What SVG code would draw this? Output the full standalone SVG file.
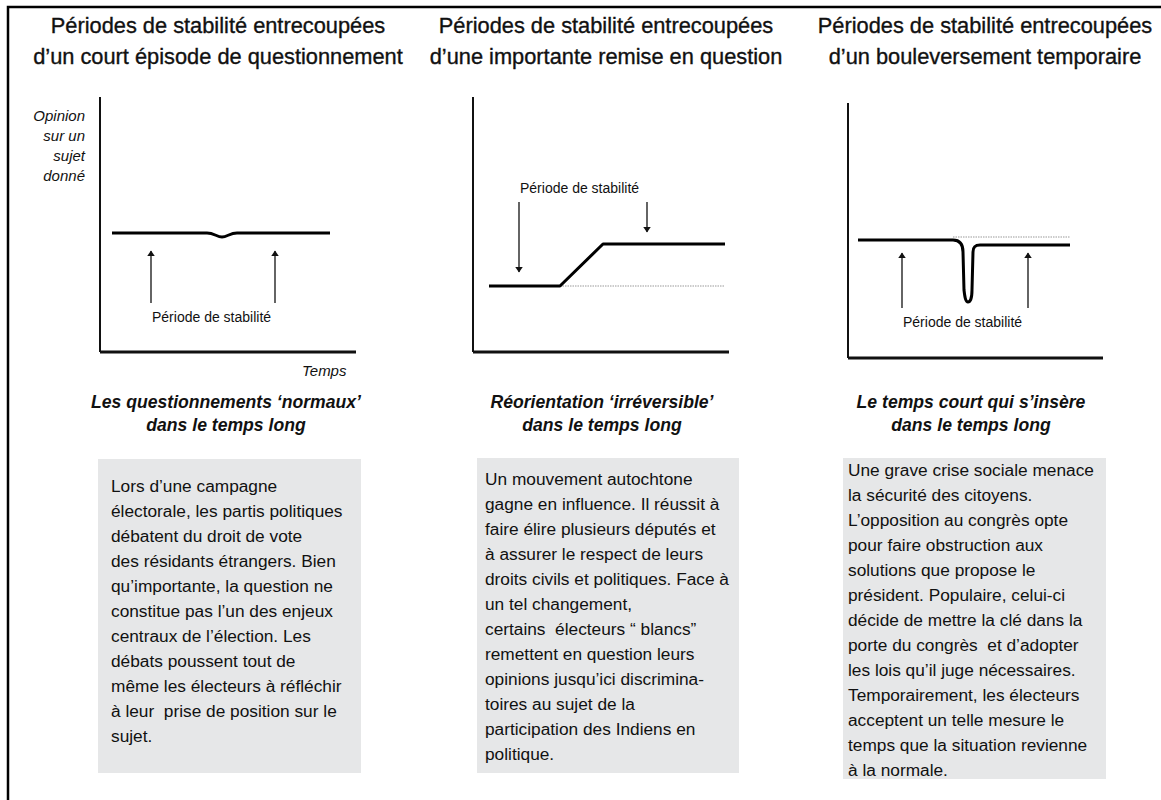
<svg xmlns="http://www.w3.org/2000/svg" width="1161" height="800" viewBox="0 0 1161 800">
<style>
.title{font-family:"Liberation Sans",Arial,sans-serif;font-size:21.8px;fill:#111;stroke:#111;stroke-width:0.35;text-anchor:middle}
.sub{font-family:"Liberation Sans",Arial,sans-serif;font-size:17.6px;font-weight:bold;font-style:italic;fill:#111;text-anchor:middle}
.body{font-family:"Liberation Sans",Arial,sans-serif;font-size:17.3px;fill:#111}
.lbl{font-family:"Liberation Sans",Arial,sans-serif;font-size:14px;fill:#111}
.ax{font-family:"Liberation Sans",Arial,sans-serif;font-size:15px;font-style:italic;fill:#111}
.box{fill:#e6e7e8}
.axis{stroke:#111;fill:none}
.data{stroke:#000;stroke-width:3;fill:none;stroke-linejoin:round}
.dot{stroke:#999;stroke-width:1;stroke-dasharray:1.5 1;fill:none}
.arr{stroke:#111;stroke-width:1.3;fill:none;marker-end:url(#ah)}
</style>
<defs>
<marker id="ah" viewBox="0 0 10 10" refX="9" refY="5" markerWidth="6" markerHeight="8" markerUnits="userSpaceOnUse" orient="auto" preserveAspectRatio="none">
<path d="M0,0 L10,5 L0,10 z" fill="#111"/>
</marker>
</defs>
<rect width="1161" height="800" fill="#fff"/>
<path d="M8,800 L8,7 L1161,7" stroke="#000" stroke-width="2.5" fill="none"/>

<g id="panel1">
<text class="title" x="218" y="33">Périodes de stabilité entrecoupées</text>
<text class="title" x="218" y="64">d’un court épisode de questionnement</text>
<text class="ax" text-anchor="end" x="85" y="121">Opinion</text>
<text class="ax" text-anchor="end" x="85" y="141">sur un</text>
<text class="ax" text-anchor="end" x="85" y="161">sujet</text>
<text class="ax" text-anchor="end" x="85" y="181">donné</text>
<path class="axis" stroke-width="2" d="M100,97 L100,352"/>
<path class="axis" stroke-width="3" d="M100,352 L356,352"/>
<path class="data" d="M112,233 L207,233 C214,233 217,237 222,237 C227,237 230,233 237,233 L330,233"/>
<text class="lbl" x="152" y="322">Période de stabilité</text>
<text class="ax" x="302" y="376">Temps</text>
<text class="sub" x="226" y="408">Les questionnements ‘normaux’</text>
<text class="sub" x="226" y="431">dans le temps long</text>
<rect class="box" x="98" y="459" width="263" height="314"/>
<text class="body" x="111" y="492">Lors d’une campagne</text>
<text class="body" x="111" y="517">électorale, les partis politiques</text>
<text class="body" x="111" y="542">débatent du droit de vote</text>
<text class="body" x="111" y="567">des résidants étrangers. Bien</text>
<text class="body" x="111" y="592">qu’importante, la question ne</text>
<text class="body" x="111" y="617">constitue pas l’un des enjeux</text>
<text class="body" x="111" y="642">centraux de l’élection. Les</text>
<text class="body" x="111" y="667">débats poussent tout de</text>
<text class="body" x="111" y="692">même les électeurs à réfléchir</text>
<text class="body" x="111" y="717" xml:space="preserve">à leur  prise de position sur le</text>
<text class="body" x="111" y="742">sujet.</text>
</g>

<g id="panel2">
<text class="title" x="606" y="33">Périodes de stabilité entrecoupées</text>
<text class="title" x="606" y="64">d’une importante remise en question</text>
<path class="axis" stroke-width="2" d="M473,97 L473,352"/>
<path class="axis" stroke-width="3" d="M473,352 L729,352"/>
<path class="dot" d="M560,286 L725,286"/>
<path class="data" d="M489,286 L560,286 L603,244 L725,244"/>
<text class="lbl" x="520" y="193">Période de stabilité</text>
<text class="sub" x="602" y="408">Réorientation ‘irréversible’</text>
<text class="sub" x="602" y="431">dans le temps long</text>
<rect class="box" x="477" y="458" width="262" height="315"/>
<text class="body" x="485" y="485">Un mouvement autochtone</text>
<text class="body" x="485" y="510">gagne en influence. Il réussit à</text>
<text class="body" x="485" y="535">faire élire plusieurs députés et</text>
<text class="body" x="485" y="560">à assurer le respect de leurs</text>
<text class="body" x="485" y="585">droits civils et politiques. Face à</text>
<text class="body" x="485" y="610">un tel changement,</text>
<text class="body" x="485" y="635" xml:space="preserve">certains  électeurs “ blancs”</text>
<text class="body" x="485" y="660">remettent en question leurs</text>
<text class="body" x="485" y="685">opinions jusqu’ici discrimina-</text>
<text class="body" x="485" y="710">toires au sujet de la</text>
<text class="body" x="485" y="735">participation des Indiens en</text>
<text class="body" x="485" y="760">politique.</text>
</g>

<g id="panel3">
<text class="title" x="985" y="33">Périodes de stabilité entrecoupées</text>
<text class="title" x="985" y="64">d’un bouleversement temporaire</text>
<path class="axis" stroke-width="2" d="M848,103 L848,358"/>
<path class="axis" stroke-width="3" d="M848,358 L1103,358"/>
<path class="dot" d="M953,237 L1070,237"/>
<path class="data" d="M858,240 L953,240 C960,240 963,244 963,252 L964,290 C965,299 966,302 968,302 C970,302 972,299 972,290 L973,252 C973,247 975,245 980,245 L1070,245"/>
<text class="lbl" x="903" y="327">Période de stabilité</text>
<text class="sub" x="971" y="408">Le temps court qui s’insère</text>
<text class="sub" x="971" y="431">dans le temps long</text>
<rect class="box" x="843" y="458" width="263" height="321"/>
<text class="body" x="848" y="476">Une grave crise sociale menace</text>
<text class="body" x="848" y="501">la sécurité des citoyens.</text>
<text class="body" x="848" y="526">L’opposition au congrès opte</text>
<text class="body" x="848" y="551">pour faire obstruction aux</text>
<text class="body" x="848" y="576">solutions que propose le</text>
<text class="body" x="848" y="601">président. Populaire, celui-ci</text>
<text class="body" x="848" y="626">décide de mettre la clé dans la</text>
<text class="body" x="848" y="651" xml:space="preserve">porte du congrès  et d’adopter</text>
<text class="body" x="848" y="676">les lois qu’il juge nécessaires.</text>
<text class="body" x="848" y="701">Temporairement, les électeurs</text>
<text class="body" x="848" y="726">acceptent un telle mesure le</text>
<text class="body" x="848" y="751">temps que la situation revienne</text>
<text class="body" x="848" y="776">à la normale.</text>
</g>

<g id="connectors">
<path class="arr" d="M151,303 L151,251"/>
<path class="arr" d="M275,303 L275,251"/>
<path class="arr" d="M519,202 L519,272"/>
<path class="arr" d="M647,202 L647,232"/>
<path class="arr" d="M902,308 L902,253"/>
<path class="arr" d="M1028,308 L1028,253"/>
</g>
</svg>
